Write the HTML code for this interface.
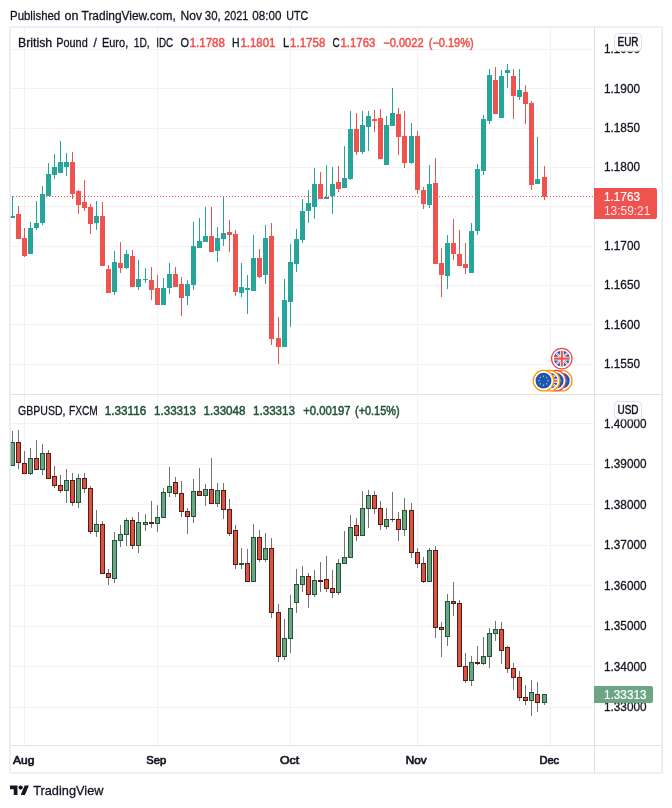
<!DOCTYPE html><html><head><meta charset="utf-8"><title>GBPEUR / GBPUSD chart</title>
<style>html,body{margin:0;padding:0;background:#fff}svg{display:block}text{font-family:"Liberation Sans",sans-serif}</style></head><body>
<svg width="672" height="808" viewBox="0 0 672 808" fill="#131722">
<rect width="672" height="808" fill="#fff"/>
<g stroke="#f2f2f3" stroke-width="1" shape-rendering="crispEdges">
<line x1="24.5" y1="27" x2="24.5" y2="745.5"/>
<line x1="157.5" y1="27" x2="157.5" y2="745.5"/>
<line x1="290.5" y1="27" x2="290.5" y2="745.5"/>
<line x1="417.5" y1="27" x2="417.5" y2="745.5"/>
<line x1="550.5" y1="27" x2="550.5" y2="745.5"/>
<line x1="10" y1="49.5" x2="594.5" y2="49.5"/>
<line x1="10" y1="88.5" x2="594.5" y2="88.5"/>
<line x1="10" y1="128.5" x2="594.5" y2="128.5"/>
<line x1="10" y1="167.5" x2="594.5" y2="167.5"/>
<line x1="10" y1="206.5" x2="594.5" y2="206.5"/>
<line x1="10" y1="246.5" x2="594.5" y2="246.5"/>
<line x1="10" y1="285.5" x2="594.5" y2="285.5"/>
<line x1="10" y1="324.5" x2="594.5" y2="324.5"/>
<line x1="10" y1="364.5" x2="594.5" y2="364.5"/>
<line x1="10" y1="423.5" x2="594.5" y2="423.5"/>
<line x1="10" y1="464.5" x2="594.5" y2="464.5"/>
<line x1="10" y1="504.5" x2="594.5" y2="504.5"/>
<line x1="10" y1="545.5" x2="594.5" y2="545.5"/>
<line x1="10" y1="585.5" x2="594.5" y2="585.5"/>
<line x1="10" y1="626.5" x2="594.5" y2="626.5"/>
<line x1="10" y1="666.5" x2="594.5" y2="666.5"/>
<line x1="10" y1="707.5" x2="594.5" y2="707.5"/>
</g>
<g shape-rendering="crispEdges">
<rect x="12" y="196" width="1" height="22" fill="#26a69a"/>
<rect x="10" y="216" width="5" height="2" fill="#26a69a"/>
<rect x="18" y="206" width="1" height="33" fill="#ef5350"/>
<rect x="16" y="214" width="5" height="25" fill="#ef5350"/>
<rect x="24" y="228" width="1" height="29" fill="#ef5350"/>
<rect x="22" y="238" width="5" height="18" fill="#ef5350"/>
<rect x="30" y="222" width="1" height="32" fill="#26a69a"/>
<rect x="28" y="228" width="5" height="26" fill="#26a69a"/>
<rect x="36" y="201" width="1" height="29" fill="#26a69a"/>
<rect x="34" y="223" width="5" height="5" fill="#26a69a"/>
<rect x="42" y="186" width="1" height="39" fill="#26a69a"/>
<rect x="40" y="194" width="5" height="29" fill="#26a69a"/>
<rect x="48" y="163" width="1" height="33" fill="#26a69a"/>
<rect x="46" y="174" width="5" height="22" fill="#26a69a"/>
<rect x="54" y="154" width="1" height="25" fill="#26a69a"/>
<rect x="52" y="167" width="5" height="8" fill="#26a69a"/>
<rect x="60" y="141" width="1" height="32" fill="#26a69a"/>
<rect x="58" y="162" width="5" height="11" fill="#26a69a"/>
<rect x="66" y="153" width="1" height="23" fill="#26a69a"/>
<rect x="64" y="162" width="5" height="5" fill="#26a69a"/>
<rect x="72" y="152" width="1" height="47" fill="#ef5350"/>
<rect x="70" y="162" width="5" height="32" fill="#ef5350"/>
<rect x="78" y="190" width="1" height="24" fill="#ef5350"/>
<rect x="76" y="191" width="5" height="14" fill="#ef5350"/>
<rect x="84" y="180" width="1" height="31" fill="#ef5350"/>
<rect x="82" y="202" width="5" height="6" fill="#ef5350"/>
<rect x="90" y="204" width="1" height="30" fill="#ef5350"/>
<rect x="88" y="207" width="5" height="17" fill="#ef5350"/>
<rect x="96" y="201" width="1" height="29" fill="#26a69a"/>
<rect x="94" y="216" width="5" height="7" fill="#26a69a"/>
<rect x="102" y="202" width="1" height="64" fill="#ef5350"/>
<rect x="100" y="216" width="5" height="50" fill="#ef5350"/>
<rect x="108" y="265" width="1" height="28" fill="#ef5350"/>
<rect x="106" y="269" width="5" height="24" fill="#ef5350"/>
<rect x="114" y="251" width="1" height="44" fill="#26a69a"/>
<rect x="112" y="262" width="5" height="30" fill="#26a69a"/>
<rect x="120" y="242" width="1" height="31" fill="#ef5350"/>
<rect x="118" y="263" width="5" height="5" fill="#ef5350"/>
<rect x="126" y="250" width="1" height="19" fill="#26a69a"/>
<rect x="124" y="254" width="5" height="14" fill="#26a69a"/>
<rect x="132" y="250" width="1" height="37" fill="#ef5350"/>
<rect x="130" y="256" width="5" height="31" fill="#ef5350"/>
<rect x="138" y="260" width="1" height="30" fill="#26a69a"/>
<rect x="136" y="279" width="5" height="8" fill="#26a69a"/>
<rect x="145" y="268" width="1" height="15" fill="#26a69a"/>
<rect x="143" y="279" width="5" height="1" fill="#26a69a"/>
<rect x="151" y="267" width="1" height="33" fill="#ef5350"/>
<rect x="149" y="280" width="5" height="10" fill="#ef5350"/>
<rect x="157" y="275" width="1" height="30" fill="#ef5350"/>
<rect x="155" y="288" width="5" height="17" fill="#ef5350"/>
<rect x="163" y="278" width="1" height="27" fill="#26a69a"/>
<rect x="161" y="288" width="5" height="17" fill="#26a69a"/>
<rect x="169" y="263" width="1" height="31" fill="#26a69a"/>
<rect x="167" y="274" width="5" height="14" fill="#26a69a"/>
<rect x="175" y="267" width="1" height="20" fill="#ef5350"/>
<rect x="173" y="274" width="5" height="13" fill="#ef5350"/>
<rect x="181" y="277" width="1" height="39" fill="#ef5350"/>
<rect x="179" y="284" width="5" height="14" fill="#ef5350"/>
<rect x="187" y="280" width="1" height="25" fill="#26a69a"/>
<rect x="185" y="284" width="5" height="12" fill="#26a69a"/>
<rect x="193" y="222" width="1" height="68" fill="#26a69a"/>
<rect x="191" y="246" width="5" height="39" fill="#26a69a"/>
<rect x="199" y="218" width="1" height="30" fill="#26a69a"/>
<rect x="197" y="241" width="5" height="7" fill="#26a69a"/>
<rect x="205" y="207" width="1" height="35" fill="#26a69a"/>
<rect x="203" y="236" width="5" height="6" fill="#26a69a"/>
<rect x="211" y="207" width="1" height="45" fill="#ef5350"/>
<rect x="209" y="236" width="5" height="16" fill="#ef5350"/>
<rect x="217" y="227" width="1" height="35" fill="#26a69a"/>
<rect x="215" y="238" width="5" height="13" fill="#26a69a"/>
<rect x="223" y="196" width="1" height="50" fill="#26a69a"/>
<rect x="221" y="233" width="5" height="6" fill="#26a69a"/>
<rect x="229" y="220" width="1" height="32" fill="#ef5350"/>
<rect x="227" y="232" width="5" height="3" fill="#ef5350"/>
<rect x="235" y="230" width="1" height="66" fill="#ef5350"/>
<rect x="233" y="234" width="5" height="58" fill="#ef5350"/>
<rect x="241" y="263" width="1" height="34" fill="#26a69a"/>
<rect x="239" y="287" width="5" height="6" fill="#26a69a"/>
<rect x="247" y="275" width="1" height="39" fill="#26a69a"/>
<rect x="245" y="288" width="5" height="2" fill="#26a69a"/>
<rect x="253" y="235" width="1" height="56" fill="#26a69a"/>
<rect x="251" y="258" width="5" height="33" fill="#26a69a"/>
<rect x="259" y="249" width="1" height="29" fill="#ef5350"/>
<rect x="257" y="258" width="5" height="19" fill="#ef5350"/>
<rect x="265" y="225" width="1" height="59" fill="#26a69a"/>
<rect x="263" y="238" width="5" height="37" fill="#26a69a"/>
<rect x="271" y="223" width="1" height="122" fill="#ef5350"/>
<rect x="269" y="236" width="5" height="103" fill="#ef5350"/>
<rect x="278" y="317" width="1" height="47" fill="#ef5350"/>
<rect x="276" y="338" width="5" height="9" fill="#ef5350"/>
<rect x="284" y="279" width="1" height="68" fill="#26a69a"/>
<rect x="282" y="300" width="5" height="47" fill="#26a69a"/>
<rect x="290" y="244" width="1" height="83" fill="#26a69a"/>
<rect x="288" y="262" width="5" height="40" fill="#26a69a"/>
<rect x="296" y="229" width="1" height="43" fill="#26a69a"/>
<rect x="294" y="239" width="5" height="25" fill="#26a69a"/>
<rect x="302" y="199" width="1" height="44" fill="#26a69a"/>
<rect x="300" y="211" width="5" height="29" fill="#26a69a"/>
<rect x="308" y="190" width="1" height="33" fill="#26a69a"/>
<rect x="306" y="203" width="5" height="8" fill="#26a69a"/>
<rect x="314" y="168" width="1" height="51" fill="#26a69a"/>
<rect x="312" y="184" width="5" height="23" fill="#26a69a"/>
<rect x="320" y="172" width="1" height="27" fill="#ef5350"/>
<rect x="318" y="184" width="5" height="15" fill="#ef5350"/>
<rect x="326" y="165" width="1" height="34" fill="#26a69a"/>
<rect x="324" y="197" width="5" height="2" fill="#26a69a"/>
<rect x="332" y="167" width="1" height="47" fill="#26a69a"/>
<rect x="330" y="184" width="5" height="12" fill="#26a69a"/>
<rect x="338" y="166" width="1" height="26" fill="#ef5350"/>
<rect x="336" y="182" width="5" height="7" fill="#ef5350"/>
<rect x="344" y="146" width="1" height="42" fill="#26a69a"/>
<rect x="342" y="178" width="5" height="10" fill="#26a69a"/>
<rect x="350" y="111" width="1" height="69" fill="#26a69a"/>
<rect x="348" y="129" width="5" height="50" fill="#26a69a"/>
<rect x="356" y="113" width="1" height="42" fill="#ef5350"/>
<rect x="354" y="129" width="5" height="23" fill="#ef5350"/>
<rect x="362" y="111" width="1" height="43" fill="#26a69a"/>
<rect x="360" y="125" width="5" height="27" fill="#26a69a"/>
<rect x="368" y="111" width="1" height="40" fill="#26a69a"/>
<rect x="366" y="116" width="5" height="11" fill="#26a69a"/>
<rect x="374" y="110" width="1" height="22" fill="#ef5350"/>
<rect x="372" y="119" width="5" height="2" fill="#ef5350"/>
<rect x="380" y="109" width="1" height="50" fill="#ef5350"/>
<rect x="378" y="118" width="5" height="41" fill="#ef5350"/>
<rect x="386" y="116" width="1" height="49" fill="#26a69a"/>
<rect x="384" y="125" width="5" height="40" fill="#26a69a"/>
<rect x="392" y="88" width="1" height="38" fill="#26a69a"/>
<rect x="390" y="113" width="5" height="13" fill="#26a69a"/>
<rect x="398" y="108" width="1" height="47" fill="#ef5350"/>
<rect x="396" y="114" width="5" height="23" fill="#ef5350"/>
<rect x="404" y="111" width="1" height="57" fill="#ef5350"/>
<rect x="402" y="136" width="5" height="27" fill="#ef5350"/>
<rect x="411" y="123" width="1" height="41" fill="#26a69a"/>
<rect x="409" y="136" width="5" height="27" fill="#26a69a"/>
<rect x="417" y="131" width="1" height="63" fill="#ef5350"/>
<rect x="415" y="136" width="5" height="54" fill="#ef5350"/>
<rect x="423" y="187" width="1" height="22" fill="#ef5350"/>
<rect x="421" y="190" width="5" height="14" fill="#ef5350"/>
<rect x="429" y="165" width="1" height="43" fill="#26a69a"/>
<rect x="427" y="184" width="5" height="21" fill="#26a69a"/>
<rect x="435" y="158" width="1" height="106" fill="#ef5350"/>
<rect x="433" y="183" width="5" height="81" fill="#ef5350"/>
<rect x="441" y="248" width="1" height="49" fill="#ef5350"/>
<rect x="439" y="263" width="5" height="12" fill="#ef5350"/>
<rect x="447" y="235" width="1" height="54" fill="#26a69a"/>
<rect x="445" y="243" width="5" height="33" fill="#26a69a"/>
<rect x="453" y="219" width="1" height="41" fill="#ef5350"/>
<rect x="451" y="243" width="5" height="11" fill="#ef5350"/>
<rect x="459" y="230" width="1" height="36" fill="#ef5350"/>
<rect x="457" y="254" width="5" height="12" fill="#ef5350"/>
<rect x="465" y="243" width="1" height="31" fill="#ef5350"/>
<rect x="463" y="264" width="5" height="4" fill="#ef5350"/>
<rect x="471" y="223" width="1" height="50" fill="#26a69a"/>
<rect x="469" y="231" width="5" height="42" fill="#26a69a"/>
<rect x="477" y="164" width="1" height="71" fill="#26a69a"/>
<rect x="475" y="169" width="5" height="62" fill="#26a69a"/>
<rect x="483" y="115" width="1" height="60" fill="#26a69a"/>
<rect x="481" y="119" width="5" height="52" fill="#26a69a"/>
<rect x="489" y="69" width="1" height="55" fill="#26a69a"/>
<rect x="487" y="75" width="5" height="46" fill="#26a69a"/>
<rect x="495" y="67" width="1" height="47" fill="#ef5350"/>
<rect x="493" y="80" width="5" height="34" fill="#ef5350"/>
<rect x="501" y="70" width="1" height="48" fill="#26a69a"/>
<rect x="499" y="76" width="5" height="42" fill="#26a69a"/>
<rect x="507" y="64" width="1" height="24" fill="#26a69a"/>
<rect x="505" y="70" width="5" height="3" fill="#26a69a"/>
<rect x="513" y="69" width="1" height="50" fill="#ef5350"/>
<rect x="511" y="76" width="5" height="20" fill="#ef5350"/>
<rect x="519" y="69" width="1" height="31" fill="#26a69a"/>
<rect x="517" y="90" width="5" height="7" fill="#26a69a"/>
<rect x="525" y="85" width="1" height="39" fill="#ef5350"/>
<rect x="523" y="92" width="5" height="12" fill="#ef5350"/>
<rect x="531" y="101" width="1" height="89" fill="#ef5350"/>
<rect x="529" y="103" width="5" height="82" fill="#ef5350"/>
<rect x="537" y="137" width="1" height="47" fill="#26a69a"/>
<rect x="535" y="179" width="5" height="5" fill="#26a69a"/>
<rect x="544" y="166" width="1" height="34" fill="#ef5350"/>
<rect x="542" y="177" width="5" height="20" fill="#ef5350"/>
</g>
<line x1="10" y1="196.5" x2="594.5" y2="196.5" stroke="#ef5350" stroke-width="1" stroke-dasharray="1 2" shape-rendering="crispEdges"/>
<g shape-rendering="crispEdges">
<rect x="12" y="431" width="1" height="35" fill="#737375"/>
<rect x="10" y="442" width="5" height="24" fill="#225437"/>
<rect x="11" y="443" width="3" height="22" fill="#6ba583"/>
<rect x="18" y="430" width="1" height="39" fill="#737375"/>
<rect x="16" y="442" width="5" height="21" fill="#5b1a13"/>
<rect x="17" y="443" width="3" height="19" fill="#d75442"/>
<rect x="24" y="451" width="1" height="23" fill="#737375"/>
<rect x="22" y="463" width="5" height="11" fill="#5b1a13"/>
<rect x="23" y="464" width="3" height="9" fill="#d75442"/>
<rect x="30" y="448" width="1" height="27" fill="#737375"/>
<rect x="28" y="458" width="5" height="16" fill="#225437"/>
<rect x="29" y="459" width="3" height="14" fill="#6ba583"/>
<rect x="36" y="440" width="1" height="30" fill="#737375"/>
<rect x="34" y="458" width="5" height="12" fill="#5b1a13"/>
<rect x="35" y="459" width="3" height="10" fill="#d75442"/>
<rect x="42" y="444" width="1" height="31" fill="#737375"/>
<rect x="40" y="453" width="5" height="17" fill="#225437"/>
<rect x="41" y="454" width="3" height="15" fill="#6ba583"/>
<rect x="48" y="450" width="1" height="29" fill="#737375"/>
<rect x="46" y="453" width="5" height="26" fill="#5b1a13"/>
<rect x="47" y="454" width="3" height="24" fill="#d75442"/>
<rect x="54" y="466" width="1" height="22" fill="#737375"/>
<rect x="52" y="476" width="5" height="10" fill="#5b1a13"/>
<rect x="53" y="477" width="3" height="8" fill="#d75442"/>
<rect x="60" y="475" width="1" height="18" fill="#737375"/>
<rect x="58" y="485" width="5" height="6" fill="#5b1a13"/>
<rect x="59" y="486" width="3" height="4" fill="#d75442"/>
<rect x="66" y="469" width="1" height="34" fill="#737375"/>
<rect x="64" y="480" width="5" height="11" fill="#225437"/>
<rect x="65" y="481" width="3" height="9" fill="#6ba583"/>
<rect x="72" y="473" width="1" height="33" fill="#737375"/>
<rect x="70" y="480" width="5" height="23" fill="#5b1a13"/>
<rect x="71" y="481" width="3" height="21" fill="#d75442"/>
<rect x="78" y="474" width="1" height="34" fill="#737375"/>
<rect x="76" y="478" width="5" height="25" fill="#225437"/>
<rect x="77" y="479" width="3" height="23" fill="#6ba583"/>
<rect x="84" y="473" width="1" height="20" fill="#737375"/>
<rect x="82" y="478" width="5" height="11" fill="#5b1a13"/>
<rect x="83" y="479" width="3" height="9" fill="#d75442"/>
<rect x="90" y="486" width="1" height="48" fill="#737375"/>
<rect x="88" y="488" width="5" height="44" fill="#5b1a13"/>
<rect x="89" y="489" width="3" height="42" fill="#d75442"/>
<rect x="96" y="510" width="1" height="27" fill="#737375"/>
<rect x="94" y="524" width="5" height="8" fill="#225437"/>
<rect x="95" y="525" width="3" height="6" fill="#6ba583"/>
<rect x="102" y="521" width="1" height="53" fill="#737375"/>
<rect x="100" y="524" width="5" height="50" fill="#5b1a13"/>
<rect x="101" y="525" width="3" height="48" fill="#d75442"/>
<rect x="108" y="569" width="1" height="16" fill="#737375"/>
<rect x="106" y="573" width="5" height="5" fill="#5b1a13"/>
<rect x="107" y="574" width="3" height="3" fill="#d75442"/>
<rect x="114" y="532" width="1" height="51" fill="#737375"/>
<rect x="112" y="540" width="5" height="39" fill="#225437"/>
<rect x="113" y="541" width="3" height="37" fill="#6ba583"/>
<rect x="120" y="525" width="1" height="22" fill="#737375"/>
<rect x="118" y="534" width="5" height="7" fill="#225437"/>
<rect x="119" y="535" width="3" height="5" fill="#6ba583"/>
<rect x="126" y="518" width="1" height="28" fill="#737375"/>
<rect x="124" y="520" width="5" height="15" fill="#225437"/>
<rect x="125" y="521" width="3" height="13" fill="#6ba583"/>
<rect x="132" y="517" width="1" height="32" fill="#737375"/>
<rect x="130" y="520" width="5" height="26" fill="#5b1a13"/>
<rect x="131" y="521" width="3" height="24" fill="#d75442"/>
<rect x="138" y="512" width="1" height="41" fill="#737375"/>
<rect x="136" y="522" width="5" height="24" fill="#225437"/>
<rect x="137" y="523" width="3" height="22" fill="#6ba583"/>
<rect x="145" y="514" width="1" height="17" fill="#737375"/>
<rect x="143" y="522" width="5" height="3" fill="#225437"/>
<rect x="144" y="523" width="3" height="1" fill="#6ba583"/>
<rect x="151" y="501" width="1" height="27" fill="#737375"/>
<rect x="149" y="522" width="5" height="2" fill="#5b1a13"/>
<rect x="157" y="505" width="1" height="27" fill="#737375"/>
<rect x="155" y="517" width="5" height="7" fill="#225437"/>
<rect x="156" y="518" width="3" height="5" fill="#6ba583"/>
<rect x="163" y="488" width="1" height="30" fill="#737375"/>
<rect x="161" y="492" width="5" height="26" fill="#225437"/>
<rect x="162" y="493" width="3" height="24" fill="#6ba583"/>
<rect x="169" y="467" width="1" height="30" fill="#737375"/>
<rect x="167" y="486" width="5" height="7" fill="#225437"/>
<rect x="168" y="487" width="3" height="5" fill="#6ba583"/>
<rect x="175" y="477" width="1" height="20" fill="#737375"/>
<rect x="173" y="482" width="5" height="12" fill="#5b1a13"/>
<rect x="174" y="483" width="3" height="10" fill="#d75442"/>
<rect x="181" y="481" width="1" height="36" fill="#737375"/>
<rect x="179" y="493" width="5" height="19" fill="#5b1a13"/>
<rect x="180" y="494" width="3" height="17" fill="#d75442"/>
<rect x="187" y="508" width="1" height="26" fill="#737375"/>
<rect x="185" y="511" width="5" height="6" fill="#5b1a13"/>
<rect x="186" y="512" width="3" height="4" fill="#d75442"/>
<rect x="193" y="479" width="1" height="44" fill="#737375"/>
<rect x="191" y="491" width="5" height="26" fill="#225437"/>
<rect x="192" y="492" width="3" height="24" fill="#6ba583"/>
<rect x="199" y="468" width="1" height="28" fill="#737375"/>
<rect x="197" y="491" width="5" height="5" fill="#5b1a13"/>
<rect x="198" y="492" width="3" height="3" fill="#d75442"/>
<rect x="205" y="484" width="1" height="22" fill="#737375"/>
<rect x="203" y="489" width="5" height="7" fill="#225437"/>
<rect x="204" y="490" width="3" height="5" fill="#6ba583"/>
<rect x="211" y="458" width="1" height="46" fill="#737375"/>
<rect x="209" y="489" width="5" height="15" fill="#5b1a13"/>
<rect x="210" y="490" width="3" height="13" fill="#d75442"/>
<rect x="217" y="483" width="1" height="24" fill="#737375"/>
<rect x="215" y="490" width="5" height="14" fill="#225437"/>
<rect x="216" y="491" width="3" height="12" fill="#6ba583"/>
<rect x="223" y="483" width="1" height="36" fill="#737375"/>
<rect x="221" y="490" width="5" height="20" fill="#5b1a13"/>
<rect x="222" y="491" width="3" height="18" fill="#d75442"/>
<rect x="229" y="499" width="1" height="37" fill="#737375"/>
<rect x="227" y="509" width="5" height="25" fill="#5b1a13"/>
<rect x="228" y="510" width="3" height="23" fill="#d75442"/>
<rect x="235" y="525" width="1" height="44" fill="#737375"/>
<rect x="233" y="530" width="5" height="35" fill="#5b1a13"/>
<rect x="234" y="531" width="3" height="33" fill="#d75442"/>
<rect x="241" y="548" width="1" height="21" fill="#737375"/>
<rect x="239" y="563" width="5" height="2" fill="#225437"/>
<rect x="247" y="549" width="1" height="33" fill="#737375"/>
<rect x="245" y="563" width="5" height="19" fill="#5b1a13"/>
<rect x="246" y="564" width="3" height="17" fill="#d75442"/>
<rect x="253" y="524" width="1" height="58" fill="#737375"/>
<rect x="251" y="537" width="5" height="45" fill="#225437"/>
<rect x="252" y="538" width="3" height="43" fill="#6ba583"/>
<rect x="259" y="530" width="1" height="32" fill="#737375"/>
<rect x="257" y="537" width="5" height="23" fill="#5b1a13"/>
<rect x="258" y="538" width="3" height="21" fill="#d75442"/>
<rect x="265" y="533" width="1" height="29" fill="#737375"/>
<rect x="263" y="548" width="5" height="12" fill="#225437"/>
<rect x="264" y="549" width="3" height="10" fill="#6ba583"/>
<rect x="271" y="538" width="1" height="80" fill="#737375"/>
<rect x="269" y="548" width="5" height="65" fill="#5b1a13"/>
<rect x="270" y="549" width="3" height="63" fill="#d75442"/>
<rect x="278" y="604" width="1" height="58" fill="#737375"/>
<rect x="276" y="612" width="5" height="45" fill="#5b1a13"/>
<rect x="277" y="613" width="3" height="43" fill="#d75442"/>
<rect x="284" y="619" width="1" height="41" fill="#737375"/>
<rect x="282" y="638" width="5" height="19" fill="#225437"/>
<rect x="283" y="639" width="3" height="17" fill="#6ba583"/>
<rect x="290" y="595" width="1" height="58" fill="#737375"/>
<rect x="288" y="608" width="5" height="31" fill="#225437"/>
<rect x="289" y="609" width="3" height="29" fill="#6ba583"/>
<rect x="296" y="569" width="1" height="44" fill="#737375"/>
<rect x="294" y="584" width="5" height="19" fill="#225437"/>
<rect x="295" y="585" width="3" height="17" fill="#6ba583"/>
<rect x="302" y="566" width="1" height="26" fill="#737375"/>
<rect x="300" y="576" width="5" height="9" fill="#225437"/>
<rect x="301" y="577" width="3" height="7" fill="#6ba583"/>
<rect x="308" y="573" width="1" height="35" fill="#737375"/>
<rect x="306" y="576" width="5" height="19" fill="#5b1a13"/>
<rect x="307" y="577" width="3" height="17" fill="#d75442"/>
<rect x="314" y="570" width="1" height="27" fill="#737375"/>
<rect x="312" y="580" width="5" height="15" fill="#225437"/>
<rect x="313" y="581" width="3" height="13" fill="#6ba583"/>
<rect x="320" y="562" width="1" height="30" fill="#737375"/>
<rect x="318" y="580" width="5" height="2" fill="#5b1a13"/>
<rect x="326" y="556" width="1" height="36" fill="#737375"/>
<rect x="324" y="579" width="5" height="10" fill="#5b1a13"/>
<rect x="325" y="580" width="3" height="8" fill="#d75442"/>
<rect x="332" y="570" width="1" height="28" fill="#737375"/>
<rect x="330" y="588" width="5" height="5" fill="#5b1a13"/>
<rect x="331" y="589" width="3" height="3" fill="#d75442"/>
<rect x="338" y="559" width="1" height="36" fill="#737375"/>
<rect x="336" y="563" width="5" height="30" fill="#225437"/>
<rect x="337" y="564" width="3" height="28" fill="#6ba583"/>
<rect x="344" y="531" width="1" height="33" fill="#737375"/>
<rect x="342" y="557" width="5" height="7" fill="#225437"/>
<rect x="343" y="558" width="3" height="5" fill="#6ba583"/>
<rect x="350" y="515" width="1" height="43" fill="#737375"/>
<rect x="348" y="527" width="5" height="31" fill="#225437"/>
<rect x="349" y="528" width="3" height="29" fill="#6ba583"/>
<rect x="356" y="518" width="1" height="23" fill="#737375"/>
<rect x="354" y="525" width="5" height="11" fill="#5b1a13"/>
<rect x="355" y="526" width="3" height="9" fill="#d75442"/>
<rect x="362" y="491" width="1" height="45" fill="#737375"/>
<rect x="360" y="508" width="5" height="28" fill="#225437"/>
<rect x="361" y="509" width="3" height="26" fill="#6ba583"/>
<rect x="368" y="490" width="1" height="38" fill="#737375"/>
<rect x="366" y="495" width="5" height="14" fill="#225437"/>
<rect x="367" y="496" width="3" height="12" fill="#6ba583"/>
<rect x="374" y="491" width="1" height="23" fill="#737375"/>
<rect x="372" y="495" width="5" height="14" fill="#5b1a13"/>
<rect x="373" y="496" width="3" height="12" fill="#d75442"/>
<rect x="380" y="501" width="1" height="29" fill="#737375"/>
<rect x="378" y="508" width="5" height="17" fill="#5b1a13"/>
<rect x="379" y="509" width="3" height="15" fill="#d75442"/>
<rect x="386" y="508" width="1" height="21" fill="#737375"/>
<rect x="384" y="519" width="5" height="8" fill="#225437"/>
<rect x="385" y="520" width="3" height="6" fill="#6ba583"/>
<rect x="392" y="492" width="1" height="30" fill="#737375"/>
<rect x="390" y="519" width="5" height="1" fill="#5b1a13"/>
<rect x="398" y="512" width="1" height="29" fill="#737375"/>
<rect x="396" y="519" width="5" height="11" fill="#5b1a13"/>
<rect x="397" y="520" width="3" height="9" fill="#d75442"/>
<rect x="404" y="498" width="1" height="38" fill="#737375"/>
<rect x="402" y="510" width="5" height="20" fill="#225437"/>
<rect x="403" y="511" width="3" height="18" fill="#6ba583"/>
<rect x="411" y="503" width="1" height="55" fill="#737375"/>
<rect x="409" y="510" width="5" height="43" fill="#5b1a13"/>
<rect x="410" y="511" width="3" height="41" fill="#d75442"/>
<rect x="417" y="548" width="1" height="20" fill="#737375"/>
<rect x="415" y="552" width="5" height="12" fill="#5b1a13"/>
<rect x="416" y="553" width="3" height="10" fill="#d75442"/>
<rect x="423" y="557" width="1" height="26" fill="#737375"/>
<rect x="421" y="563" width="5" height="19" fill="#5b1a13"/>
<rect x="422" y="564" width="3" height="17" fill="#d75442"/>
<rect x="429" y="548" width="1" height="34" fill="#737375"/>
<rect x="427" y="550" width="5" height="32" fill="#225437"/>
<rect x="428" y="551" width="3" height="30" fill="#6ba583"/>
<rect x="435" y="546" width="1" height="92" fill="#737375"/>
<rect x="433" y="550" width="5" height="78" fill="#5b1a13"/>
<rect x="434" y="551" width="3" height="76" fill="#d75442"/>
<rect x="441" y="622" width="1" height="35" fill="#737375"/>
<rect x="439" y="627" width="5" height="3" fill="#5b1a13"/>
<rect x="440" y="628" width="3" height="1" fill="#d75442"/>
<rect x="447" y="594" width="1" height="52" fill="#737375"/>
<rect x="445" y="601" width="5" height="36" fill="#225437"/>
<rect x="446" y="602" width="3" height="34" fill="#6ba583"/>
<rect x="453" y="582" width="1" height="34" fill="#737375"/>
<rect x="451" y="601" width="5" height="3" fill="#5b1a13"/>
<rect x="452" y="602" width="3" height="1" fill="#d75442"/>
<rect x="459" y="600" width="1" height="67" fill="#737375"/>
<rect x="457" y="603" width="5" height="64" fill="#5b1a13"/>
<rect x="458" y="604" width="3" height="62" fill="#d75442"/>
<rect x="465" y="653" width="1" height="30" fill="#737375"/>
<rect x="463" y="666" width="5" height="15" fill="#5b1a13"/>
<rect x="464" y="667" width="3" height="13" fill="#d75442"/>
<rect x="471" y="656" width="1" height="30" fill="#737375"/>
<rect x="469" y="662" width="5" height="19" fill="#225437"/>
<rect x="470" y="663" width="3" height="17" fill="#6ba583"/>
<rect x="477" y="646" width="1" height="19" fill="#737375"/>
<rect x="475" y="662" width="5" height="2" fill="#5b1a13"/>
<rect x="483" y="637" width="1" height="28" fill="#737375"/>
<rect x="481" y="656" width="5" height="8" fill="#225437"/>
<rect x="482" y="657" width="3" height="6" fill="#6ba583"/>
<rect x="489" y="628" width="1" height="40" fill="#737375"/>
<rect x="487" y="633" width="5" height="24" fill="#225437"/>
<rect x="488" y="634" width="3" height="22" fill="#6ba583"/>
<rect x="495" y="621" width="1" height="20" fill="#737375"/>
<rect x="493" y="629" width="5" height="5" fill="#225437"/>
<rect x="494" y="630" width="3" height="3" fill="#6ba583"/>
<rect x="501" y="622" width="1" height="42" fill="#737375"/>
<rect x="499" y="629" width="5" height="22" fill="#5b1a13"/>
<rect x="500" y="630" width="3" height="20" fill="#d75442"/>
<rect x="507" y="646" width="1" height="27" fill="#737375"/>
<rect x="505" y="647" width="5" height="22" fill="#5b1a13"/>
<rect x="506" y="648" width="3" height="20" fill="#d75442"/>
<rect x="513" y="663" width="1" height="27" fill="#737375"/>
<rect x="511" y="668" width="5" height="10" fill="#5b1a13"/>
<rect x="512" y="669" width="3" height="8" fill="#d75442"/>
<rect x="519" y="671" width="1" height="30" fill="#737375"/>
<rect x="517" y="677" width="5" height="21" fill="#5b1a13"/>
<rect x="518" y="678" width="3" height="19" fill="#d75442"/>
<rect x="525" y="685" width="1" height="20" fill="#737375"/>
<rect x="523" y="697" width="5" height="4" fill="#5b1a13"/>
<rect x="524" y="698" width="3" height="2" fill="#d75442"/>
<rect x="531" y="680" width="1" height="36" fill="#737375"/>
<rect x="529" y="692" width="5" height="9" fill="#225437"/>
<rect x="530" y="693" width="3" height="7" fill="#6ba583"/>
<rect x="537" y="682" width="1" height="30" fill="#737375"/>
<rect x="535" y="694" width="5" height="9" fill="#5b1a13"/>
<rect x="536" y="695" width="3" height="7" fill="#d75442"/>
<rect x="544" y="694" width="1" height="11" fill="#737375"/>
<rect x="542" y="694" width="5" height="9" fill="#225437"/>
<rect x="543" y="695" width="3" height="7" fill="#6ba583"/>
</g>
<rect x="10" y="27" width="652.2" height="745.9" fill="none" stroke="#e8eaf1" stroke-width="1.5"/>
<g stroke="#e1e2e4" stroke-width="1" fill="none">
<line x1="594.5" y1="27" x2="594.5" y2="772.9"/>
<line x1="10" y1="394.5" x2="662.2" y2="394.5"/>
<line x1="10" y1="745.5" x2="662.2" y2="745.5"/>
</g>
<text x="604" y="52.8" font-size="12" stroke="#131722" stroke-width="0.3" textLength="36" lengthAdjust="spacingAndGlyphs">1.1950</text>
<text x="604" y="92.5" font-size="12" stroke="#131722" stroke-width="0.3" textLength="36" lengthAdjust="spacingAndGlyphs">1.1900</text>
<text x="604" y="131.8" font-size="12" stroke="#131722" stroke-width="0.3" textLength="36" lengthAdjust="spacingAndGlyphs">1.1850</text>
<text x="604" y="171.2" font-size="12" stroke="#131722" stroke-width="0.3" textLength="36" lengthAdjust="spacingAndGlyphs">1.1800</text>
<text x="604" y="249.8" font-size="12" stroke="#131722" stroke-width="0.3" textLength="36" lengthAdjust="spacingAndGlyphs">1.1700</text>
<text x="604" y="289.2" font-size="12" stroke="#131722" stroke-width="0.3" textLength="36" lengthAdjust="spacingAndGlyphs">1.1650</text>
<text x="604" y="328.5" font-size="12" stroke="#131722" stroke-width="0.3" textLength="36" lengthAdjust="spacingAndGlyphs">1.1600</text>
<text x="604" y="367.9" font-size="12" stroke="#131722" stroke-width="0.3" textLength="36" lengthAdjust="spacingAndGlyphs">1.1550</text>
<text x="604" y="427.5" font-size="12" stroke="#131722" stroke-width="0.3" textLength="42.5" lengthAdjust="spacingAndGlyphs">1.40000</text>
<text x="604" y="468.0" font-size="12" stroke="#131722" stroke-width="0.3" textLength="42.5" lengthAdjust="spacingAndGlyphs">1.39000</text>
<text x="604" y="508.5" font-size="12" stroke="#131722" stroke-width="0.3" textLength="42.5" lengthAdjust="spacingAndGlyphs">1.38000</text>
<text x="604" y="549.0" font-size="12" stroke="#131722" stroke-width="0.3" textLength="42.5" lengthAdjust="spacingAndGlyphs">1.37000</text>
<text x="604" y="589.5" font-size="12" stroke="#131722" stroke-width="0.3" textLength="42.5" lengthAdjust="spacingAndGlyphs">1.36000</text>
<text x="604" y="630.0" font-size="12" stroke="#131722" stroke-width="0.3" textLength="42.5" lengthAdjust="spacingAndGlyphs">1.35000</text>
<text x="604" y="670.5" font-size="12" stroke="#131722" stroke-width="0.3" textLength="42.5" lengthAdjust="spacingAndGlyphs">1.34000</text>
<text x="604" y="711.0" font-size="12" stroke="#131722" stroke-width="0.3" textLength="42.5" lengthAdjust="spacingAndGlyphs">1.33000</text>
<rect x="614.5" y="33.5" width="27" height="17.6" rx="4" fill="#fff" stroke="#dcdee3"/>
<text x="628" y="46.0" font-size="12" stroke="#131722" stroke-width="0.5" textLength="21" lengthAdjust="spacingAndGlyphs" text-anchor="middle">EUR</text>
<rect x="614.5" y="401.5" width="27" height="17.6" rx="4" fill="#fff" stroke="#dcdee3"/>
<text x="628" y="414.0" font-size="12" stroke="#131722" stroke-width="0.5" textLength="21" lengthAdjust="spacingAndGlyphs" text-anchor="middle">USD</text>
<path d="M594 188h61a2 2 0 0 1 2 2v27a2 2 0 0 1-2 2h-61z" fill="#ef5350"/>
<text x="604" y="200.8" font-size="12" fill="#fff" stroke="#fff" stroke-width="0.2" textLength="36" lengthAdjust="spacingAndGlyphs">1.1763</text>
<text x="604" y="214.8" font-size="12" fill="#fff" textLength="46.3" lengthAdjust="spacingAndGlyphs" fill-opacity="0.85">13:59:21</text>
<path d="M594 686h57a2 2 0 0 1 2 2v13a2 2 0 0 1-2 2h-57z" fill="#6ba583"/>
<text x="604" y="699.3" font-size="12" fill="#fff" stroke="#fff" stroke-width="0.2" textLength="42.5" lengthAdjust="spacingAndGlyphs">1.33313</text>
<text x="10.05" y="20" font-size="13" stroke="#131722" stroke-width="0.3" textLength="50.15" lengthAdjust="spacingAndGlyphs">Published</text>
<text x="64.55" y="20" font-size="13" stroke="#131722" stroke-width="0.3" textLength="13.9" lengthAdjust="spacingAndGlyphs">on</text>
<text x="81.55" y="20" font-size="13" stroke="#131722" stroke-width="0.3" textLength="94.15" lengthAdjust="spacingAndGlyphs">TradingView.com,</text>
<text x="180.55" y="20" font-size="13" stroke="#131722" stroke-width="0.3" textLength="21.4" lengthAdjust="spacingAndGlyphs">Nov</text>
<text x="204.8" y="20" font-size="13" stroke="#131722" stroke-width="0.3" textLength="15.9" lengthAdjust="spacingAndGlyphs">30,</text>
<text x="224.3" y="20" font-size="13" stroke="#131722" stroke-width="0.3" textLength="23.9" lengthAdjust="spacingAndGlyphs">2021</text>
<text x="252.3" y="20" font-size="13" stroke="#131722" stroke-width="0.3" textLength="29.15" lengthAdjust="spacingAndGlyphs">08:00</text>
<text x="286.3" y="20" font-size="13" stroke="#131722" stroke-width="0.3" textLength="21.9" lengthAdjust="spacingAndGlyphs">UTC</text>
<text x="17.95" y="47" font-size="12" stroke="#131722" stroke-width="0.3" textLength="34.25" lengthAdjust="spacingAndGlyphs">British</text>
<text x="56.2" y="47" font-size="12" stroke="#131722" stroke-width="0.3" textLength="31.5" lengthAdjust="spacingAndGlyphs">Pound</text>
<text x="93.6" y="47" font-size="12" stroke="#131722" stroke-width="0.3">/</text>
<text x="101.95" y="47" font-size="12" stroke="#131722" stroke-width="0.3" textLength="26.25" lengthAdjust="spacingAndGlyphs">Euro,</text>
<text x="133.7" y="47" font-size="12" stroke="#131722" stroke-width="0.3" textLength="16.0" lengthAdjust="spacingAndGlyphs">1D,</text>
<text x="156.2" y="47" font-size="12" stroke="#131722" stroke-width="0.3" textLength="17.0" lengthAdjust="spacingAndGlyphs">IDC</text>
<text x="180.5" y="47" font-size="12" stroke="#131722" stroke-width="0.3" textLength="8.5" lengthAdjust="spacingAndGlyphs">O</text>
<text x="189.7" y="47" font-size="12" fill="#ef5350" stroke="#ef5350" stroke-width="0.5" textLength="35.2" lengthAdjust="spacingAndGlyphs">1.1788</text>
<text x="232" y="47" font-size="12" stroke="#131722" stroke-width="0.3" textLength="7.6" lengthAdjust="spacingAndGlyphs">H</text>
<text x="240.4" y="47" font-size="12" fill="#ef5350" stroke="#ef5350" stroke-width="0.5" textLength="35" lengthAdjust="spacingAndGlyphs">1.1801</text>
<text x="283" y="47" font-size="12" stroke="#131722" stroke-width="0.3" textLength="6.2" lengthAdjust="spacingAndGlyphs">L</text>
<text x="290.1" y="47" font-size="12" fill="#ef5350" stroke="#ef5350" stroke-width="0.5" textLength="35.2" lengthAdjust="spacingAndGlyphs">1.1758</text>
<text x="332.5" y="47" font-size="12" stroke="#131722" stroke-width="0.3" textLength="7.2" lengthAdjust="spacingAndGlyphs">C</text>
<text x="340.5" y="47" font-size="12" fill="#ef5350" stroke="#ef5350" stroke-width="0.5" textLength="34.8" lengthAdjust="spacingAndGlyphs">1.1763</text>
<text x="383.2" y="47" font-size="12" fill="#ef5350" stroke="#ef5350" stroke-width="0.5" textLength="40.4" lengthAdjust="spacingAndGlyphs">−0.0022</text>
<text x="428.8" y="47" font-size="12" fill="#ef5350" stroke="#ef5350" stroke-width="0.5" textLength="44.8" lengthAdjust="spacingAndGlyphs">(−0.19%)</text>
<text x="18" y="415" font-size="12" stroke="#131722" stroke-width="0.3" textLength="47.5" lengthAdjust="spacingAndGlyphs">GBPUSD,</text>
<text x="69" y="415" font-size="12" stroke="#131722" stroke-width="0.3" textLength="28.8" lengthAdjust="spacingAndGlyphs">FXCM</text>
<text x="104.8" y="415" font-size="12" fill="#225437" stroke="#225437" stroke-width="0.5" textLength="41.5" lengthAdjust="spacingAndGlyphs">1.33116</text>
<text x="154" y="415" font-size="12" fill="#225437" stroke="#225437" stroke-width="0.5" textLength="42" lengthAdjust="spacingAndGlyphs">1.33313</text>
<text x="203.5" y="415" font-size="12" fill="#225437" stroke="#225437" stroke-width="0.5" textLength="42" lengthAdjust="spacingAndGlyphs">1.33048</text>
<text x="253" y="415" font-size="12" fill="#225437" stroke="#225437" stroke-width="0.5" textLength="42" lengthAdjust="spacingAndGlyphs">1.33313</text>
<text x="303.2" y="415" font-size="12" fill="#225437" stroke="#225437" stroke-width="0.5" textLength="47.3" lengthAdjust="spacingAndGlyphs">+0.00197</text>
<text x="355" y="415" font-size="12" fill="#225437" stroke="#225437" stroke-width="0.5" textLength="44.6" lengthAdjust="spacingAndGlyphs">(+0.15%)</text>
<text x="13.0" y="763.6" font-size="11.6" stroke="#131722" stroke-width="0.7" textLength="21.4" lengthAdjust="spacingAndGlyphs">Aug</text>
<text x="146.25" y="763.6" font-size="11.6" stroke="#131722" stroke-width="0.7" textLength="19.9" lengthAdjust="spacingAndGlyphs">Sep</text>
<text x="280.0" y="763.6" font-size="11.6" stroke="#131722" stroke-width="0.7" textLength="19.15" lengthAdjust="spacingAndGlyphs">Oct</text>
<text x="405.75" y="763.6" font-size="11.6" stroke="#131722" stroke-width="0.7" textLength="20.9" lengthAdjust="spacingAndGlyphs">Nov</text>
<text x="539.5" y="763.6" font-size="11.6" stroke="#131722" stroke-width="0.7" textLength="19.65" lengthAdjust="spacingAndGlyphs">Dec</text>
<g transform="translate(561.8 380.7)"><circle r="10.25" fill="#fff" stroke="#ff9800" stroke-width="1.25"/><circle r="7.9" fill="#1a56b8"/>
<polygon points="0.00,-5.55 0.26,-4.86 1.00,-4.82 0.43,-4.36 0.62,-3.65 0.00,-4.05 -0.62,-3.65 -0.43,-4.36 -1.00,-4.82 -0.26,-4.86" fill="#fdd835"/>
<polygon points="3.18,-4.23 3.45,-3.55 4.18,-3.51 3.61,-3.04 3.80,-2.33 3.18,-2.73 2.56,-2.33 2.75,-3.04 2.18,-3.51 2.92,-3.55" fill="#fdd835"/>
<polygon points="4.50,-1.05 4.76,-0.36 5.50,-0.32 4.93,0.14 5.12,0.85 4.50,0.45 3.88,0.85 4.07,0.14 3.50,-0.32 4.24,-0.36" fill="#fdd835"/>
<polygon points="3.18,2.13 3.45,2.82 4.18,2.86 3.61,3.32 3.80,4.03 3.18,3.63 2.56,4.03 2.75,3.32 2.18,2.86 2.92,2.82" fill="#fdd835"/>
<polygon points="0.00,3.45 0.26,4.14 1.00,4.18 0.43,4.64 0.62,5.35 0.00,4.95 -0.62,5.35 -0.43,4.64 -1.00,4.18 -0.26,4.14" fill="#fdd835"/>
<polygon points="-3.18,2.13 -2.92,2.82 -2.18,2.86 -2.75,3.32 -2.56,4.03 -3.18,3.63 -3.80,4.03 -3.61,3.32 -4.18,2.86 -3.45,2.82" fill="#fdd835"/>
<polygon points="-4.50,-1.05 -4.24,-0.36 -3.50,-0.32 -4.07,0.14 -3.88,0.85 -4.50,0.45 -5.12,0.85 -4.93,0.14 -5.50,-0.32 -4.76,-0.36" fill="#fdd835"/>
<polygon points="-3.18,-4.23 -2.92,-3.55 -2.18,-3.51 -2.75,-3.04 -2.56,-2.33 -3.18,-2.73 -3.80,-2.33 -3.61,-3.04 -4.18,-3.51 -3.45,-3.55" fill="#fdd835"/>
</g>
<g transform="translate(555.7 380.7)"><circle r="10.25" fill="#fff" stroke="#f04a45" stroke-width="1.25"/><circle r="7.9" fill="#1a56b8"/>
<polygon points="0.00,-5.55 0.26,-4.86 1.00,-4.82 0.43,-4.36 0.62,-3.65 0.00,-4.05 -0.62,-3.65 -0.43,-4.36 -1.00,-4.82 -0.26,-4.86" fill="#fdd835"/>
<polygon points="3.18,-4.23 3.45,-3.55 4.18,-3.51 3.61,-3.04 3.80,-2.33 3.18,-2.73 2.56,-2.33 2.75,-3.04 2.18,-3.51 2.92,-3.55" fill="#fdd835"/>
<polygon points="4.50,-1.05 4.76,-0.36 5.50,-0.32 4.93,0.14 5.12,0.85 4.50,0.45 3.88,0.85 4.07,0.14 3.50,-0.32 4.24,-0.36" fill="#fdd835"/>
<polygon points="3.18,2.13 3.45,2.82 4.18,2.86 3.61,3.32 3.80,4.03 3.18,3.63 2.56,4.03 2.75,3.32 2.18,2.86 2.92,2.82" fill="#fdd835"/>
<polygon points="0.00,3.45 0.26,4.14 1.00,4.18 0.43,4.64 0.62,5.35 0.00,4.95 -0.62,5.35 -0.43,4.64 -1.00,4.18 -0.26,4.14" fill="#fdd835"/>
<polygon points="-3.18,2.13 -2.92,2.82 -2.18,2.86 -2.75,3.32 -2.56,4.03 -3.18,3.63 -3.80,4.03 -3.61,3.32 -4.18,2.86 -3.45,2.82" fill="#fdd835"/>
<polygon points="-4.50,-1.05 -4.24,-0.36 -3.50,-0.32 -4.07,0.14 -3.88,0.85 -4.50,0.45 -5.12,0.85 -4.93,0.14 -5.50,-0.32 -4.76,-0.36" fill="#fdd835"/>
<polygon points="-3.18,-4.23 -2.92,-3.55 -2.18,-3.51 -2.75,-3.04 -2.56,-2.33 -3.18,-2.73 -3.80,-2.33 -3.61,-3.04 -4.18,-3.51 -3.45,-3.55" fill="#fdd835"/>
</g>
<g transform="translate(549.6 380.7)"><circle r="10.25" fill="#fff" stroke="#ff9800" stroke-width="1.25"/>
<clipPath id="c5496"><circle r="7.9"/></clipPath>
<g clip-path="url(#c5496)"><rect x="-8" y="-8" width="16" height="16" fill="#1a56b8"/>
<path d="M-8-8L8 8M8-8L-8 8" stroke="#fff" stroke-width="2.2"/><path d="M-8-8L8 8M8-8L-8 8" stroke="#ef5350" stroke-width="0.9"/>
<path d="M0-8V8M-8 0H8" stroke="#fff" stroke-width="3.9"/><path d="M0-8V8M-8 0H8" stroke="#ef5350" stroke-width="2.1"/></g></g>
<g transform="translate(543.5 380.7)"><circle r="10.25" fill="#fff" stroke="#ff9800" stroke-width="1.25"/><circle r="7.9" fill="#1a56b8"/>
<polygon points="0.00,-5.55 0.26,-4.86 1.00,-4.82 0.43,-4.36 0.62,-3.65 0.00,-4.05 -0.62,-3.65 -0.43,-4.36 -1.00,-4.82 -0.26,-4.86" fill="#fdd835"/>
<polygon points="3.18,-4.23 3.45,-3.55 4.18,-3.51 3.61,-3.04 3.80,-2.33 3.18,-2.73 2.56,-2.33 2.75,-3.04 2.18,-3.51 2.92,-3.55" fill="#fdd835"/>
<polygon points="4.50,-1.05 4.76,-0.36 5.50,-0.32 4.93,0.14 5.12,0.85 4.50,0.45 3.88,0.85 4.07,0.14 3.50,-0.32 4.24,-0.36" fill="#fdd835"/>
<polygon points="3.18,2.13 3.45,2.82 4.18,2.86 3.61,3.32 3.80,4.03 3.18,3.63 2.56,4.03 2.75,3.32 2.18,2.86 2.92,2.82" fill="#fdd835"/>
<polygon points="0.00,3.45 0.26,4.14 1.00,4.18 0.43,4.64 0.62,5.35 0.00,4.95 -0.62,5.35 -0.43,4.64 -1.00,4.18 -0.26,4.14" fill="#fdd835"/>
<polygon points="-3.18,2.13 -2.92,2.82 -2.18,2.86 -2.75,3.32 -2.56,4.03 -3.18,3.63 -3.80,4.03 -3.61,3.32 -4.18,2.86 -3.45,2.82" fill="#fdd835"/>
<polygon points="-4.50,-1.05 -4.24,-0.36 -3.50,-0.32 -4.07,0.14 -3.88,0.85 -4.50,0.45 -5.12,0.85 -4.93,0.14 -5.50,-0.32 -4.76,-0.36" fill="#fdd835"/>
<polygon points="-3.18,-4.23 -2.92,-3.55 -2.18,-3.51 -2.75,-3.04 -2.56,-2.33 -3.18,-2.73 -3.80,-2.33 -3.61,-3.04 -4.18,-3.51 -3.45,-3.55" fill="#fdd835"/>
</g>
<g transform="translate(561.8 358.6)"><circle r="10.25" fill="#fff" stroke="#f04a45" stroke-width="1.25"/>
<clipPath id="c5618"><circle r="7.9"/></clipPath>
<g clip-path="url(#c5618)"><rect x="-8" y="-8" width="16" height="16" fill="#1a56b8"/>
<path d="M-8-8L8 8M8-8L-8 8" stroke="#fff" stroke-width="2.2"/><path d="M-8-8L8 8M8-8L-8 8" stroke="#ef5350" stroke-width="0.9"/>
<path d="M0-8V8M-8 0H8" stroke="#fff" stroke-width="3.9"/><path d="M0-8V8M-8 0H8" stroke="#ef5350" stroke-width="2.1"/></g></g>
<g transform="translate(10 783.3) scale(0.533)" fill="#131722"><path d="M14 22H7V11H0V4h14v18zM28 22h-8l7.5-18h8L28 22z"/><circle cx="20" cy="8" r="4"/></g>
<text x="33.2" y="795.3" font-size="13.5" stroke="#131722" stroke-width="0.3" textLength="70.3" lengthAdjust="spacingAndGlyphs">TradingView</text>
</svg></body></html>
